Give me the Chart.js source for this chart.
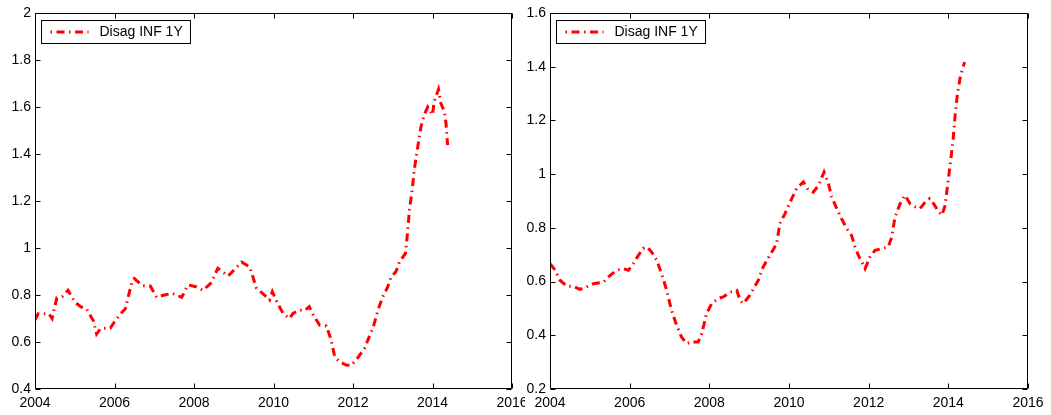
<!DOCTYPE html>
<html>
<head>
<meta charset="utf-8">
<script src="https://cdn.jsdelivr.net/npm/chart.js@4.4.1/dist/chart.umd.min.js"></script>
<style>
  html, body { margin: 0; padding: 0; background: #fff; }
  body { width: 1051px; height: 415px; position: relative; overflow: hidden; }
  canvas { position: absolute; top: 0; }
  #c1 { left: 0; }
  #c2 { left: 515px; }
</style>
</head>
<body>
<canvas id="c1" width="525" height="415"></canvas>
<canvas id="c2" width="536" height="415"></canvas>
<script>
const seriesLabel = 'Disag INF 1Y';
const xTicks = [2004, 2006, 2008, 2010, 2012, 2014, 2016];
const leftYTicks = [0.4, 0.6, 0.8, 1, 1.2, 1.4, 1.6, 1.8, 2];
const rightYTicks = [0.2, 0.4, 0.6, 0.8, 1, 1.2, 1.4, 1.6];

const leftYears = [2004.00, 2004.08, 2004.35, 2004.43, 2004.55, 2004.70, 2004.83, 2005.00, 2005.15, 2005.30,
  2005.47, 2005.55, 2005.65, 2005.90, 2006.00, 2006.15, 2006.27, 2006.43, 2006.50, 2006.70,
  2006.90, 2007.06, 2007.25, 2007.46, 2007.69, 2007.85, 2008.05, 2008.23, 2008.44, 2008.60,
  2008.86, 2009.20, 2009.40, 2009.57, 2009.82, 2009.90, 2009.97, 2010.10, 2010.24, 2010.40,
  2010.49, 2010.66, 2010.78, 2010.90, 2011.00, 2011.16, 2011.33, 2011.45, 2011.54, 2011.66,
  2011.83, 2011.95, 2012.08, 2012.29, 2012.41, 2012.52, 2012.64, 2012.75, 2012.87, 2012.96,
  2013.08, 2013.17, 2013.32, 2013.37, 2013.42, 2013.49, 2013.54, 2013.63, 2013.71, 2013.79,
  2013.88, 2013.95, 2014.00, 2014.04, 2014.10, 2014.15, 2014.21, 2014.30, 2014.34, 2014.38];
const leftValues = [0.694, 0.720, 0.720, 0.700, 0.788, 0.795, 0.820, 0.770, 0.750, 0.740,
  0.690, 0.634, 0.658, 0.660, 0.686, 0.720, 0.740, 0.850, 0.870, 0.840,
  0.838, 0.790, 0.800, 0.807, 0.790, 0.843, 0.835, 0.820, 0.853, 0.914,
  0.881, 0.940, 0.920, 0.830, 0.793, 0.779, 0.814, 0.765, 0.722, 0.700,
  0.722, 0.736, 0.733, 0.750, 0.715, 0.672, 0.668, 0.609, 0.537, 0.516,
  0.502, 0.500, 0.523, 0.573, 0.623, 0.670, 0.742, 0.793, 0.833, 0.878,
  0.899, 0.942, 0.977, 1.062, 1.162, 1.247, 1.332, 1.431, 1.516, 1.566,
  1.600, 1.580, 1.566, 1.623, 1.651, 1.675, 1.616, 1.580, 1.530, 1.438];

const rightYears = [2004.00, 2004.13, 2004.25, 2004.42, 2004.58, 2004.75, 2004.92, 2005.09, 2005.34, 2005.51,
  2005.67, 2005.84, 2005.97, 2006.09, 2006.22, 2006.34, 2006.44, 2006.55, 2006.68, 2006.80,
  2006.93, 2007.05, 2007.18, 2007.30, 2007.43, 2007.55, 2007.72, 2007.81, 2007.93, 2008.06,
  2008.22, 2008.35, 2008.52, 2008.69, 2008.77, 2008.85, 2009.02, 2009.23, 2009.35, 2009.52,
  2009.69, 2009.77, 2009.90, 2010.07, 2010.19, 2010.36, 2010.49, 2010.61, 2010.74, 2010.88,
  2010.99, 2011.07, 2011.20, 2011.32, 2011.45, 2011.57, 2011.66, 2011.74, 2011.91, 2012.03,
  2012.16, 2012.33, 2012.49, 2012.58, 2012.66, 2012.79, 2012.91, 2013.04, 2013.17, 2013.29,
  2013.42, 2013.53, 2013.63, 2013.76, 2013.84, 2013.92, 2013.99, 2014.05, 2014.12, 2014.17,
  2014.23, 2014.30, 2014.37, 2014.41];
const rightValues = [0.667, 0.642, 0.605, 0.583, 0.583, 0.571, 0.580, 0.592, 0.598, 0.623,
  0.642, 0.648, 0.642, 0.667, 0.698, 0.723, 0.729, 0.710, 0.679, 0.630,
  0.567, 0.493, 0.437, 0.394, 0.369, 0.375, 0.375, 0.406, 0.481, 0.518,
  0.537, 0.543, 0.561, 0.567, 0.530, 0.518, 0.549, 0.605, 0.654, 0.698,
  0.741, 0.816, 0.853, 0.909, 0.946, 0.971, 0.940, 0.933, 0.958, 1.008,
  0.965, 0.915, 0.872, 0.834, 0.797, 0.772, 0.729, 0.698, 0.648, 0.691,
  0.716, 0.723, 0.729, 0.766, 0.840, 0.890, 0.921, 0.890, 0.878, 0.872,
  0.896, 0.909, 0.890, 0.859, 0.847, 0.884, 0.970, 1.040, 1.130, 1.219,
  1.300, 1.362, 1.399, 1.417];

const FONT = "'Liberation Sans', Arial, Helvetica, sans-serif";
const DASH = [8, 4.5, 1.5, 4.5];

const framePlugin = {
  id: 'frame',
  afterDraw(chart) {
    const ctx = chart.ctx;
    const a = chart.chartArea;
    const xs = chart.scales.x, ys = chart.scales.y;
    const L = Math.round(a.left) + 0.5, R = Math.round(a.right) - 0.5;
    const T = Math.round(a.top) + 0.5, B = Math.round(a.bottom) - 0.5;
    ctx.save();
    ctx.strokeStyle = '#000';
    ctx.lineWidth = 1;
    ctx.setLineDash([]);
    ctx.beginPath();
    ctx.rect(L, T, R - L, B - T);
    ctx.stroke();
    const tl = 5;
    ctx.beginPath();
    xTicks.forEach(v => {
      const p = Math.round(xs.getPixelForValue(v)) + 0.5;
      ctx.moveTo(p, B); ctx.lineTo(p, B - tl);
      ctx.moveTo(p, T); ctx.lineTo(p, T + tl);
    });
    ys.ticks.forEach(t => {
      const p = Math.round(ys.getPixelForValue(t.value)) + 0.5;
      ctx.moveTo(L, p); ctx.lineTo(L + tl, p);
      ctx.moveTo(R, p); ctx.lineTo(R - tl, p);
    });
    ctx.stroke();

    // legend box
    const ds = chart.data.datasets[0];
    const bx = L + 6, by = T + 7, bw = 149, bh = 23;
    ctx.fillStyle = '#fff';
    ctx.fillRect(bx, by, bw, bh);
    ctx.strokeRect(bx, by, bw, bh);
    ctx.strokeStyle = ds.borderColor;
    ctx.lineWidth = 3;
    ctx.setLineDash([1.5, 4.5, 8, 4.5]);
    ctx.beginPath();
    const ly = by + 11.5;
    ctx.moveTo(bx + 9, ly); ctx.lineTo(bx + 47, ly);
    ctx.stroke();
    ctx.setLineDash([]);
    ctx.fillStyle = '#000';
    ctx.font = '14px ' + FONT;
    ctx.textBaseline = 'middle';
    ctx.textAlign = 'left';
    ctx.fillText(ds.label, bx + 58, by + 12);
    ctx.restore();
  }
};

function makeChart(id, years, values, ymin, ymax, yTicks, padRight) {
  const data = years.map((x, i) => ({ x: x, y: values[i] }));
  return new Chart(document.getElementById(id), {
    type: 'line',
    data: {
      datasets: [{
        label: seriesLabel,
        data: data,
        borderColor: '#ff0000',
        borderWidth: 3,
        borderDash: DASH,
        borderCapStyle: 'butt',
        pointRadius: 0,
        tension: 0,
        fill: false
      }]
    },
    options: {
      responsive: false,
      animation: false,
      devicePixelRatio: 1,
      layout: { padding: { left: 0, right: padRight, top: 13, bottom: 0 } },
      plugins: { legend: { display: false }, tooltip: { enabled: false } },
      scales: {
        x: {
          type: 'linear', min: 2004, max: 2016,
          afterBuildTicks: s => { s.ticks = xTicks.map(v => ({ value: v })); },
          afterFit: s => { s.height = 26; s.paddingLeft = 0; s.paddingRight = 0; },
          grid: { display: false, drawTicks: false },
          border: { display: false },
          ticks: { color: '#000', font: { family: FONT, size: 14 }, padding: 6,
                   maxRotation: 0, autoSkip: false, callback: v => String(v) }
        },
        y: {
          type: 'linear', min: ymin, max: ymax,
          afterBuildTicks: s => { s.ticks = yTicks.map(v => ({ value: v })); },
          afterFit: s => { s.width = 35; s.paddingTop = 0; s.paddingBottom = 0; },
          grid: { display: false, drawTicks: false },
          border: { display: false },
          ticks: { color: '#000', font: { family: FONT, size: 14 }, padding: 4,
                   autoSkip: false, callback: v => String(v) }
        }
      }
    },
    plugins: [framePlugin]
  });
}

makeChart('c1', leftYears, leftValues, 0.4, 2, leftYTicks, 13);
makeChart('c2', rightYears, rightValues, 0.2, 1.6, rightYTicks, 23);
</script>
</body>
</html>
